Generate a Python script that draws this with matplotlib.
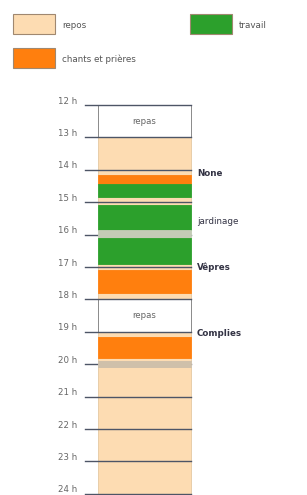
import matplotlib
matplotlib.use('Agg')
import matplotlib.pyplot as plt
from matplotlib.patches import Rectangle

# hour grid
hours = list(range(12, 25))
hour_labels = ['%d h' % h for h in hours]

# timeline blocks (start hour, end hour, kind)
seg_start = [12, 13, 14.15, 14.45, 14.85, 15.1, 15.85, 16.1, 16.9, 17.1, 17.8, 18, 19, 19.15, 19.8, 19.9, 20.1]
seg_end = [13, 14.15, 14.45, 14.85, 15.1, 15.85, 16.1, 16.9, 17.1, 17.8, 18, 19, 19.15, 19.8, 19.9, 20.1, 24]
seg_kind = ['repas', 'repos', 'chants', 'travail', 'repos', 'travail', 'pause', 'travail', 'repos',
            'chants', 'repos', 'repas', 'repos', 'chants', 'repos', 'pause2', 'repos']

# annotations at the right of the column
note_hours = [14.1, 15.6, 17.0, 19.05]
note_texts = ['None', 'jardinage', 'Vêpres', 'Complies']
note_bold = [True, False, True, True]

legend_names = ['repos', 'chants et prières', 'travail']
legend_kinds = ['repos', 'chants', 'travail']

colors = {'repas': 'white', 'repos': '#fddcb2', 'chants': '#ff7f0e', 'travail': '#2ca02c',
          'pause': '#c3cbb6', 'pause2': '#cfc0aa'}
edges = {'repas': '#777777', 'repos': '#e5c8a2', 'chants': '#ff7f0e', 'travail': '#2ca02c',
         'pause': '#c3cbb6', 'pause2': '#cfc0aa'}

W, H = 307, 495
px_per_h = 32.4
y12 = 105

fig = plt.figure(figsize=(W / 100, H / 100), dpi=100)

ax = fig.add_axes([0, 0, 1, 1])
ax.set_xlim(0, W)
ax.set_ylim(12 + (H - y12) / px_per_h, 12 - y12 / px_per_h)
ax.axis('off')

x0, x1 = 98, 191

# hour lines + labels
for h, lab in zip(hours, hour_labels):
    ax.plot([85, x1], [h, h], color='#4d5566', lw=1.0, zorder=1)
    ax.text(77, h - 0.12, lab, ha='right', va='center', fontsize=6.2, color='#666666')

for s, e, k in zip(seg_start, seg_end, seg_kind):
    ax.add_patch(Rectangle((x0, s), x1 - x0, e - s, facecolor=colors[k],
                           edgecolor=edges[k], lw=0.6, zorder=0 if k in ('repos', 'repas') else 2))
    if k == 'repas':
        ax.text((x0 + x1) / 2, (s + e) / 2, 'repas', ha='center', va='center',
                fontsize=6.2, color='#666666', zorder=3)

for h, t, b in zip(note_hours, note_texts, note_bold):
    ax.text(197, h, t, ha='left', va='center', fontsize=6.3,
            fontweight='bold' if b else 'normal', color='#333344')

# legend
lax = fig.add_axes([0, 1 - 80 / H, 1, 80 / H])
lax.set_xlim(0, W)
lax.set_ylim(80, 0)
lax.axis('off')
leg_x = [13, 13, 190]
leg_y = [14, 48, 14]
for name, k, lx, ly in zip(legend_names, legend_kinds, leg_x, leg_y):
    lax.add_patch(Rectangle((lx, ly), 42, 20, facecolor=colors[k], edgecolor='#a08870', lw=0.8))
    lax.text(lx + 49, ly + 11, name, ha='left', va='center', fontsize=6.3, color='#555555')

fig.savefig('out.png', dpi=100)
